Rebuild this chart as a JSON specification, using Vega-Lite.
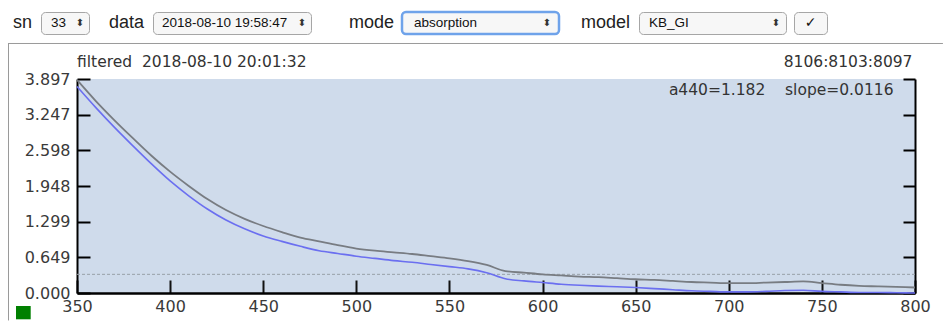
{
  "$schema": "https://vega.github.io/schema/vega-lite/v6.json",
  "background": "#ffffff",
  "padding": {"left": 6, "top": 10, "right": 0, "bottom": 0},
  "config": {"font": "DejaVu Sans", "view": {"stroke": null}},
  "datasets": {
    "controls": [
      {"control": "sn", "value": "33"},
      {"control": "data", "value": "2018-08-10 19:58:47"},
      {"control": "mode", "value": "absorption"},
      {"control": "model", "value": "KB_GI"}
    ],
    "spectra": [
      {"wl": 350, "gray": 3.88, "blue": 3.76},
      {"wl": 360, "gray": 3.50, "blue": 3.38},
      {"wl": 370, "gray": 3.15, "blue": 3.02},
      {"wl": 380, "gray": 2.82, "blue": 2.68},
      {"wl": 390, "gray": 2.50, "blue": 2.35},
      {"wl": 400, "gray": 2.21, "blue": 2.04},
      {"wl": 410, "gray": 1.95, "blue": 1.77},
      {"wl": 420, "gray": 1.71, "blue": 1.53},
      {"wl": 430, "gray": 1.51, "blue": 1.33},
      {"wl": 440, "gray": 1.35, "blue": 1.17},
      {"wl": 450, "gray": 1.22, "blue": 1.04},
      {"wl": 460, "gray": 1.11, "blue": 0.94},
      {"wl": 470, "gray": 1.01, "blue": 0.85},
      {"wl": 480, "gray": 0.94, "blue": 0.77},
      {"wl": 490, "gray": 0.87, "blue": 0.72},
      {"wl": 500, "gray": 0.81, "blue": 0.67},
      {"wl": 510, "gray": 0.77, "blue": 0.63},
      {"wl": 520, "gray": 0.74, "blue": 0.59},
      {"wl": 530, "gray": 0.71, "blue": 0.56},
      {"wl": 540, "gray": 0.67, "blue": 0.52},
      {"wl": 550, "gray": 0.63, "blue": 0.48},
      {"wl": 560, "gray": 0.58, "blue": 0.44},
      {"wl": 570, "gray": 0.51, "blue": 0.37},
      {"wl": 580, "gray": 0.40, "blue": 0.26},
      {"wl": 590, "gray": 0.37, "blue": 0.22},
      {"wl": 600, "gray": 0.34, "blue": 0.19},
      {"wl": 610, "gray": 0.32, "blue": 0.16},
      {"wl": 620, "gray": 0.30, "blue": 0.14},
      {"wl": 630, "gray": 0.29, "blue": 0.125},
      {"wl": 640, "gray": 0.27, "blue": 0.115},
      {"wl": 650, "gray": 0.25, "blue": 0.10},
      {"wl": 660, "gray": 0.24, "blue": 0.08},
      {"wl": 670, "gray": 0.22, "blue": 0.06},
      {"wl": 680, "gray": 0.20, "blue": 0.04},
      {"wl": 690, "gray": 0.19, "blue": 0.03},
      {"wl": 700, "gray": 0.18, "blue": 0.02},
      {"wl": 710, "gray": 0.18, "blue": 0.02},
      {"wl": 720, "gray": 0.19, "blue": 0.03},
      {"wl": 730, "gray": 0.20, "blue": 0.045},
      {"wl": 740, "gray": 0.21, "blue": 0.05},
      {"wl": 750, "gray": 0.18, "blue": 0.03},
      {"wl": 760, "gray": 0.15, "blue": 0.02},
      {"wl": 770, "gray": 0.13, "blue": 0.01},
      {"wl": 780, "gray": 0.12, "blue": 0.01},
      {"wl": 790, "gray": 0.11, "blue": 0.005},
      {"wl": 800, "gray": 0.10, "blue": 0.0}
    ]
  },
  "spacing": 6,
  "vconcat": [
    {
      "spacing": 6,
      "hconcat": [
        {
          "width": 28, "height": 22,
          "data": {"name": "controls"},
          "transform": [{"filter": "datum.control === 'sn'"}],
          "mark": {"type": "text", "align": "right", "baseline": "middle", "dx": -2, "font": "Liberation Sans", "fontSize": 18, "color": "#222"},
          "encoding": {"x": {"datum": 1, "type": "quantitative", "scale": {"domain": [0, 1]}, "axis": null}, "text": {"field": "control"}}
        },
        {
          "width": 48, "height": 22,
          "view": {"stroke": "#a6a6a6", "fill": "#f7f7f7", "cornerRadius": 4},
          "data": {"name": "controls"},
          "transform": [{"filter": "datum.control === 'sn'"}],
          "layer": [
            {"mark": {"type": "text", "align": "left", "baseline": "middle", "dx": 10, "font": "Liberation Sans", "fontSize": 13.5, "color": "#111"},
             "encoding": {"x": {"datum": 0, "type": "quantitative", "scale": {"domain": [0, 1]}, "axis": null}, "text": {"field": "value"}}},
            {"mark": {"type": "text", "align": "center", "baseline": "middle", "dx": -9, "fontSize": 10, "color": "#333"},
             "encoding": {"x": {"datum": 1, "type": "quantitative", "scale": {"domain": [0, 1]}, "axis": null}, "text": {"value": "⬍"}}}
          ]
        },
        {
          "width": 50, "height": 22,
          "data": {"name": "controls"},
          "transform": [{"filter": "datum.control === 'data'"}],
          "mark": {"type": "text", "align": "right", "baseline": "middle", "dx": -2, "font": "Liberation Sans", "fontSize": 18, "color": "#222"},
          "encoding": {"x": {"datum": 1, "type": "quantitative", "scale": {"domain": [0, 1]}, "axis": null}, "text": {"field": "control"}}
        },
        {
          "width": 158, "height": 22,
          "view": {"stroke": "#a6a6a6", "fill": "#f7f7f7", "cornerRadius": 4},
          "data": {"name": "controls"},
          "transform": [{"filter": "datum.control === 'data'"}],
          "layer": [
            {"mark": {"type": "text", "align": "left", "baseline": "middle", "dx": 9, "font": "Liberation Sans", "fontSize": 13.5, "color": "#111"},
             "encoding": {"x": {"datum": 0, "type": "quantitative", "scale": {"domain": [0, 1]}, "axis": null}, "text": {"field": "value"}}},
            {"mark": {"type": "text", "align": "center", "baseline": "middle", "dx": -9, "fontSize": 10, "color": "#333"},
             "encoding": {"x": {"datum": 1, "type": "quantitative", "scale": {"domain": [0, 1]}, "axis": null}, "text": {"value": "⬍"}}}
          ]
        },
        {
          "width": 76, "height": 22,
          "data": {"name": "controls"},
          "transform": [{"filter": "datum.control === 'mode'"}],
          "mark": {"type": "text", "align": "right", "baseline": "middle", "dx": 0, "font": "Liberation Sans", "fontSize": 18, "color": "#222"},
          "encoding": {"x": {"datum": 1, "type": "quantitative", "scale": {"domain": [0, 1]}, "axis": null}, "text": {"field": "control"}}
        },
        {
          "width": 157, "height": 22,
          "view": {"stroke": "#6fa3ea", "strokeWidth": 2.5, "fill": "#f7f7f7", "cornerRadius": 4},
          "data": {"name": "controls"},
          "transform": [{"filter": "datum.control === 'mode'"}],
          "layer": [
            {"mark": {"type": "text", "align": "left", "baseline": "middle", "dx": 12, "font": "Liberation Sans", "fontSize": 13.5, "color": "#111"},
             "encoding": {"x": {"datum": 0, "type": "quantitative", "scale": {"domain": [0, 1]}, "axis": null}, "text": {"field": "value"}}},
            {"mark": {"type": "text", "align": "center", "baseline": "middle", "dx": -12, "fontSize": 10, "color": "#333"},
             "encoding": {"x": {"datum": 1, "type": "quantitative", "scale": {"domain": [0, 1]}, "axis": null}, "text": {"value": "⬍"}}}
          ]
        },
        {
          "width": 65, "height": 22,
          "data": {"name": "controls"},
          "transform": [{"filter": "datum.control === 'model'"}],
          "mark": {"type": "text", "align": "right", "baseline": "middle", "dx": -2, "font": "Liberation Sans", "fontSize": 18, "color": "#222"},
          "encoding": {"x": {"datum": 1, "type": "quantitative", "scale": {"domain": [0, 1]}, "axis": null}, "text": {"field": "control"}}
        },
        {
          "width": 147, "height": 22,
          "view": {"stroke": "#a6a6a6", "fill": "#f7f7f7", "cornerRadius": 4},
          "data": {"name": "controls"},
          "transform": [{"filter": "datum.control === 'model'"}],
          "layer": [
            {"mark": {"type": "text", "align": "left", "baseline": "middle", "dx": 10, "font": "Liberation Sans", "fontSize": 13.5, "color": "#111"},
             "encoding": {"x": {"datum": 0, "type": "quantitative", "scale": {"domain": [0, 1]}, "axis": null}, "text": {"field": "value"}}},
            {"mark": {"type": "text", "align": "center", "baseline": "middle", "dx": -10, "fontSize": 10, "color": "#333"},
             "encoding": {"x": {"datum": 1, "type": "quantitative", "scale": {"domain": [0, 1]}, "axis": null}, "text": {"value": "⬍"}}}
          ]
        },
        {
          "width": 33, "height": 22,
          "view": {"stroke": "#a6a6a6", "fill": "#f7f7f7", "cornerRadius": 4},
          "data": {"values": [{"button": "✓"}]},
          "mark": {"type": "text", "baseline": "middle", "fontSize": 14, "color": "#111"},
          "encoding": {"text": {"field": "button"}}
        }
      ]
    },
    {
      "spacing": 0,
      "hconcat": [
        {
          "width": 1,
          "height": 214,
          "data": {"values": [{"blank": ""}]},
          "mark": {"type": "text", "opacity": 0},
          "encoding": {"text": {"field": "blank"}}
        },
        {
          "width": 838,
          "height": 214,
          "view": {"fill": "#cfdbeb", "stroke": null},
          "resolve": {"axis": {"x": "independent", "y": "independent"}},
          "layer": [
            {
              "data": {"values": [{}]},
              "mark": {"type": "rule", "color": "#9a9a9a", "strokeWidth": 1},
              "encoding": {
                "x": {"datum": 312.947, "type": "quantitative", "scale": {"domain": [350, 800], "nice": false, "zero": false}, "axis": null},
                "x2": {"datum": 815},
                "y": {"datum": 4.5435, "type": "quantitative", "scale": {"domain": [0, 3.897], "nice": false, "zero": false}, "axis": null}
              }
            },
            {
              "data": {"values": [{}]},
              "mark": {"type": "rule", "color": "#9a9a9a", "strokeWidth": 1},
              "encoding": {
                "x": {"datum": 313.216, "type": "quantitative", "scale": {"domain": [350, 800], "nice": false, "zero": false}, "axis": null},
                "y": {"datum": 4.5435, "type": "quantitative", "scale": {"domain": [0, 3.897], "nice": false, "zero": false}, "axis": null},
                "y2": {"datum": -0.5}
              }
            },
            {
              "data": {"values": [{}]},
              "mark": {"type": "rect", "color": "#008000"},
              "encoding": {
                "x": {"datum": 317.243, "type": "quantitative", "scale": {"domain": [350, 800], "nice": false, "zero": false}, "axis": null},
                "x2": {"datum": 325.137},
                "y": {"datum": -0.237, "type": "quantitative", "scale": {"domain": [0, 3.897], "nice": false, "zero": false}, "axis": null},
                "y2": {"datum": -0.479}
              }
            },
            {
              "data": {"values": [{}]},
              "mark": {"type": "rule", "color": "#98a0a8", "strokeWidth": 1, "strokeDash": [3, 2]},
              "encoding": {
                "y": {"datum": 0.34, "type": "quantitative", "scale": {"domain": [0, 3.897], "nice": false, "zero": false}, "axis": null}
              }
            },
            {
              "data": {"name": "spectra"},
              "mark": {"type": "line", "color": "#6b6ff0", "strokeWidth": 1.6, "interpolate": "monotone"},
              "encoding": {
                "x": {"field": "wl", "type": "quantitative", "scale": {"domain": [350, 800], "nice": false, "zero": false}, "axis": null},
                "y": {"field": "blue", "type": "quantitative", "scale": {"domain": [0, 3.897], "nice": false, "zero": false},
                      "axis": {"orient": "right", "values": [0, 0.649, 1.299, 1.948, 2.598, 3.247, 3.897], "labels": false, "title": null, "grid": false,
                               "domainColor": "#000", "domainWidth": 2, "tickColor": "#000", "tickWidth": 2, "tickSize": -12}}
              }
            },
            {
              "data": {"name": "spectra"},
              "mark": {"type": "line", "color": "#787c82", "strokeWidth": 1.8, "interpolate": "monotone"},
              "encoding": {
                "x": {"field": "wl", "type": "quantitative", "scale": {"domain": [350, 800], "nice": false, "zero": false},
                      "axis": {"orient": "bottom", "values": [350, 400, 450, 500, 550, 600, 650, 700, 750, 800], "title": null, "grid": false,
                               "domainColor": "#000", "domainWidth": 2.5, "tickColor": "#111", "tickWidth": 2, "tickSize": -13,
                               "labelPadding": 18, "labelFontSize": 16, "labelColor": "#3a3a3a", "labelFont": "DejaVu Sans", "labelFlush": false, "labelOverlap": false}},
                "y": {"field": "gray", "type": "quantitative", "scale": {"domain": [0, 3.897], "nice": false, "zero": false},
                      "axis": {"orient": "left", "values": [0, 0.649, 1.299, 1.948, 2.598, 3.247, 3.897], "format": ".3f", "title": null, "grid": false,
                               "domainColor": "#000", "domainWidth": 2, "tickColor": "#000", "tickWidth": 2, "tickSize": -13,
                               "labelPadding": 20, "labelFontSize": 16, "labelColor": "#3a3a3a", "labelFont": "DejaVu Sans", "labelFlush": false, "labelOverlap": false}}
              }
            },
            {
              "data": {"values": [{"label": "filtered\u00a0\u00a02018-08-10 20:01:32"}]},
              "mark": {"type": "text", "align": "left", "baseline": "alphabetic", "dy": -12.5, "fontSize": 15.5, "color": "#333"},
              "encoding": {
                "x": {"datum": 350, "type": "quantitative", "scale": {"domain": [350, 800], "nice": false, "zero": false}, "axis": null},
                "y": {"datum": 3.897, "type": "quantitative", "scale": {"domain": [0, 3.897], "nice": false, "zero": false}, "axis": null},
                "text": {"field": "label"}
              }
            },
            {
              "data": {"values": [{"label": "8106:8103:8097"}]},
              "mark": {"type": "text", "align": "right", "baseline": "alphabetic", "dx": -2.5, "dy": -12.5, "fontSize": 15.5, "color": "#333"},
              "encoding": {
                "x": {"datum": 800, "type": "quantitative", "scale": {"domain": [350, 800], "nice": false, "zero": false}, "axis": null},
                "y": {"datum": 3.897, "type": "quantitative", "scale": {"domain": [0, 3.897], "nice": false, "zero": false}, "axis": null},
                "text": {"field": "label"}
              }
            },
            {
              "data": {"values": [{"label": "a440=1.182\u00a0\u00a0\u00a0\u00a0slope=0.0116"}]},
              "mark": {"type": "text", "align": "right", "baseline": "alphabetic", "dx": -21.5, "dy": 16, "fontSize": 15.5, "color": "#333"},
              "encoding": {
                "x": {"datum": 800, "type": "quantitative", "scale": {"domain": [350, 800], "nice": false, "zero": false}, "axis": null},
                "y": {"datum": 3.897, "type": "quantitative", "scale": {"domain": [0, 3.897], "nice": false, "zero": false}, "axis": null},
                "text": {"field": "label"}
              }
            }
          ]
        }
      ]
    }
  ]
}
